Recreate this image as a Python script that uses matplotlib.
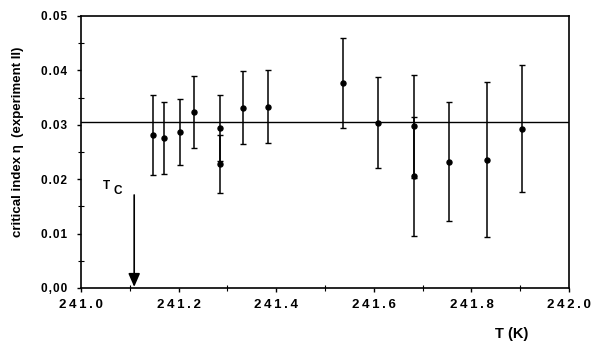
import matplotlib
matplotlib.use("Agg")
import matplotlib.pyplot as plt
from matplotlib.ticker import MultipleLocator

plt.rcParams["font.family"] = ["Liberation Sans", "DejaVu Sans"]
plt.rcParams["font.weight"] = "bold"

# Measured critical index versus temperature
temperature = [241.147, 241.171, 241.203, 241.232, 241.285, 241.285, 241.331,
               241.383, 241.537, 241.609, 241.683, 241.683, 241.755, 241.832,
               241.903]
eta = [0.0281, 0.0276, 0.0287, 0.0324, 0.0294, 0.0228, 0.0331,
       0.0333, 0.0377, 0.0304, 0.0297, 0.0205, 0.0232, 0.0236,
       0.0293]
eta_err = [0.0073, 0.0066, 0.0061, 0.0066, 0.0060, 0.0054, 0.0067,
           0.0067, 0.0082, 0.0083, 0.0095, 0.0110, 0.0109, 0.0143,
           0.0117]
eta_mean = 0.0305
t_c = 241.109

xticks = [241.0, 241.2, 241.4, 241.6, 241.8, 242.0]
yticks = [0.00, 0.01, 0.02, 0.03, 0.04, 0.05]
yticklabels = ["0,00", "0.01", "0.02", "0.03", "0.04", "0.05"]


def spaced(s, sep="\u2009"):
    return sep.join(s)


fig = plt.figure(figsize=(5.97, 3.41), dpi=100)
ax = fig.add_axes([81 / 597, 53 / 341, 488 / 597, 272 / 341])

ax.errorbar(temperature, eta, yerr=eta_err, fmt="o", color="black",
            ms=3.6, elinewidth=1.1, capsize=2.2, capthick=1.0)
ax.axhline(eta_mean, color="black", lw=1.0)

ax.annotate("", xy=(t_c, 0.0002), xytext=(t_c, 0.0171),
            arrowprops=dict(arrowstyle="-|>,head_length=0.8,head_width=0.35",
                            color="black", lw=1.2, shrinkA=0, shrinkB=0))
ax.text(241.052, 0.0187, "T", fontsize=8.5, ha="center", va="center")
ax.text(241.076, 0.0179, "C", fontsize=8.5, ha="center", va="center")

ax.set_xlim(241.0, 242.0)
ax.set_ylim(0.0, 0.05)
ax.set_xticks(xticks)
ax.set_xticklabels([spaced(f"{t:.1f}") for t in xticks], fontsize=9.5)
ax.set_yticks(yticks)
ax.set_yticklabels([spaced(s, "\u200a") for s in yticklabels], fontsize=8.5)
ax.xaxis.set_minor_locator(MultipleLocator(0.1))
ax.yaxis.set_minor_locator(MultipleLocator(0.005))
ax.tick_params(which="major", direction="out", length=3, width=1.0, pad=5)
ax.tick_params(axis="y", which="major", pad=7)
ax.tick_params(which="minor", direction="inout", length=4, width=0.8)
for side in ax.spines.values():
    side.set_linewidth(1.2)

fig.text(18 / 597, 1 - 142 / 341, "critical index \u03b7  (experiment II)",
         rotation=90, ha="center", va="center", fontsize=9.5)
fig.text(512 / 597, 1 - 334 / 341, "T (K)", ha="center", va="center",
         fontsize=10.5)

fig.savefig("out.png", dpi=100)
